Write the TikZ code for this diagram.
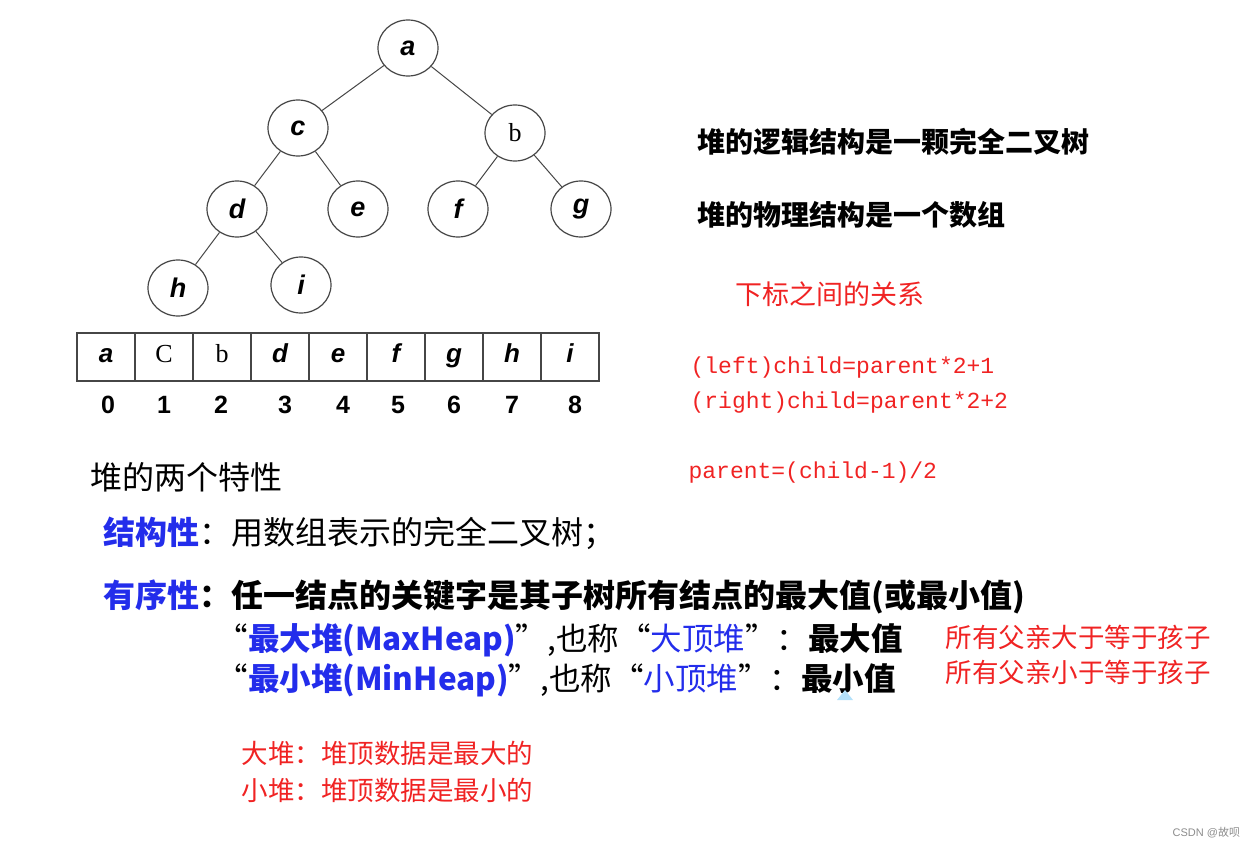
\documentclass[tikz,border=0pt]{standalone}
\usepackage{fontspec}
\usepackage{tikz}
\usetikzlibrary{shapes.geometric}
\newfontfamily\cjk{Noto Sans CJK SC}
\newfontfamily\helv{Liberation Sans}
\newfontfamily\tms{Liberation Serif}
\newfontfamily\cour{Liberation Mono}
\definecolor{hpred}{RGB}{240,35,35}
\definecolor{hpblue}{RGB}{35,45,235}
\definecolor{hpline}{RGB}{70,70,70}
\definecolor{hpmark}{RGB}{180,225,250}
\newcommand{\fsz}[1]{\fontsize{#1}{#1}\selectfont}

\begin{document}
\begin{tikzpicture}[x=1pt,y=-1pt,line width=1.2pt,
  vtx/.style={draw=hpline,ellipse,minimum width=60,minimum height=56,inner sep=0pt,
    font=\helv\bfseries\itshape\fsz{27}},
  cell/.style={draw=hpline,minimum width=58,minimum height=48,inner sep=0pt,
    text height=16,text depth=5,font=\helv\bfseries\itshape\fsz{26}},
  idx/.style={inner sep=0pt,font=\helv\bfseries\fsz{25}},
  txt/.style={anchor=west,inner sep=0pt},
  head/.style={txt,font=\cjk\bfseries\fsz{28}},
  note/.style={txt,text=hpred,font=\cjk\fsz{26.5}},
  code/.style={txt,text=hpred,font=\cour\fsz{23}}]
\useasboundingbox (0,0) rectangle (1255,850);
% tree
\node[vtx] (a) at (408,48) {a};
\node[vtx] (c) at (298,128) {c};
\node[vtx,font=\tms\fsz{26}] (b) at (515,133) {b};
\node[vtx] (d) at (237,209) {d};
\node[vtx] (e) at (358,209) {e};
\node[vtx] (f) at (458,209) {f};
\node[vtx] (g) at (581,209) {g};
\node[vtx] (h) at (178,288) {h};
\node[vtx] (i) at (301,285) {i};
\foreach \p/\q in {a/c,a/b,c/d,c/e,b/f,b/g,d/h,d/i}
  \draw[hpline,line width=1pt] (\p) -- (\q);
% array
\foreach \k/\t in {0/a,1/{\tms\upshape\mdseries C},2/{\tms\upshape\mdseries b},3/d,4/e,5/f,6/g,7/h,8/i}
  \node[cell] (cell\k) at (106+58*\k,357) {\t};
\foreach \k/\x in {0/108,1/164,2/221,3/285,4/343,5/398,6/454,7/512,8/575}
  \node[idx] (idx\k) at (\x,405) {\k};
% right side
\node[head] (logic) at (697,142) {堆的逻辑结构是一颗完全二叉树};
\node[head] (phys) at (697,215) {堆的物理结构是一个数组};
\node[note,font=\cjk\fsz{27}] (rel) at (735,294) {下标之间的关系};
\node[code] (lchild) at (690,368) {(left)child=parent*2+1};
\node[code] (rchild) at (690,403) {(right)child=parent*2+2};
\node[code] (par) at (688,473) {parent=(child-1)/2};
% two properties
\node[txt,font=\cjk\fsz{32}] (prop) at (90,477) {堆的两个特性};
\node[txt,font=\cjk\fsz{32}] (struct) at (103,533)
  {\textcolor{hpblue}{\bfseries 结构性}：用数组表示的完全二叉树；};
\node[txt,font=\cjk\bfseries\fsz{32}] (order) at (103,597)
  {\textcolor{hpblue}{有序性}：任一结点的关键字是其子树所有结点的最大值(或最小值)};
\node[txt,font=\cjk\fsz{31.5}] (maxh) at (216,640)
  {“\textcolor{hpblue}{\bfseries 最大堆(MaxHeap)}”,也称“\textcolor{hpblue}{大顶堆}”：{\bfseries 最大值}};
\node[txt,font=\cjk\fsz{31.5}] (minh) at (216,680)
  {“\textcolor{hpblue}{\bfseries 最小堆(MinHeap)}”,也称“\textcolor{hpblue}{小顶堆}”：{\bfseries 最小值}};
\fill[hpmark] (837,700) -- (845,690) -- (853,700) -- cycle;
\node[note] (maxnote) at (945,637) {所有父亲大于等于孩子};
\node[note] (minnote) at (945,672) {所有父亲小于等于孩子};
\node[note] (big) at (241,753) {大堆：堆顶数据是最大的};
\node[note] (small) at (241,790) {小堆：堆顶数据是最小的};
\node[txt,text=black!45,font=\helv\fsz{11}] (mark) at (1172,833) {CSDN @{\cjk 故呗}};
\end{tikzpicture}
\end{document}
